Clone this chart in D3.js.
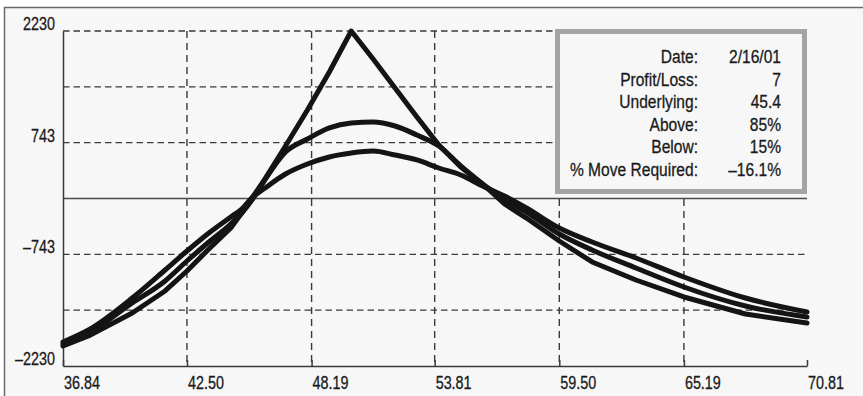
<!DOCTYPE html>
<html><head><meta charset="utf-8">
<script src="https://cdn.jsdelivr.net/npm/d3@7"></script>
<style>
html,body{margin:0;padding:0;background:#fff;}
svg{display:block;}
text{font-family:"Liberation Sans",Arial,sans-serif;fill:#1a1a1a;stroke:#1a1a1a;stroke-width:0.3px;}
</style></head><body>
<svg id="chart" width="863" height="396"></svg>
<script>
// ---- data ----
const prices = [36.84, 38, 40, 41.5, 42.5, 43.5, 44.5, 45, 45.5, 46, 47, 48, 49, 50, 51, 52, 53, 54, 55, 56, 57, 58, 59.5, 61, 63, 65.19, 68, 70.81];
const plNear = [-1964, -1831, -1524, -1231, -965, -672, -393, -193, 20, 233, 699, 1178, 1684, 2230, 1857, 1471, 1085, 712, 419, 193, -73, -260, -566, -845, -1085, -1311, -1538, -1658];
const plMid  = [-1937, -1791, -1391, -1098, -832, -579, -339, -193, -7, 220, 619, 792, 939, 1005, 1019, 965, 845, 699, 433, 193, -7, -180, -473, -686, -925, -1178, -1431, -1578];
const plFar  = [-1910, -1751, -1325, -952, -699, -459, -246, -140, 20, 126, 326, 459, 553, 606, 632, 579, 513, 406, 313, 166, 33, -126, -393, -579, -792, -1045, -1325, -1511];
const xTicks = [36.84, 42.50, 48.19, 53.81, 59.50, 65.19, 70.81];
const xTickLabels = ["36.84", "42.50", "48.19", "53.81", "59.50", "65.19", "70.81"];
const yTicks = [2230, 1486.67, 743.33, 0, -743.33, -1486.67, -2230];
const yTickLabels = ["2230", "", "743", "", "–743", "", "–2230"];
const infoLabels = ["Date:", "Profit/Loss:", "Underlying:", "Above:", "Below:", "% Move Required:"];
const infoValues = ["2/16/01", "7", "45.4", "85%", "15%", "–16.1%"];

// ---- layout ----
const svg = d3.select("#chart");
const L = 63, R = 807, T = 31, B = 366;
const NARROW = 0.82;
const x = d3.scaleLinear().domain([36.84, 70.81]).range([L, R]);
const y = d3.scaleLinear().domain([-2230, 2230]).range([B, T]);

// outer frame
svg.append("rect").attr("x", 4.5).attr("y", 7.5).attr("width", 900).attr("height", 500)
  .attr("fill", "#f7f7f7").attr("stroke", "#6a6a6a").attr("stroke-width", 1.5);

// grid
const g = svg.append("g");
yTicks.forEach(v => {
  if (v === 0 || v === -2230) return;
  g.append("line").attr("x1", L).attr("x2", R).attr("y1", y(v)).attr("y2", y(v))
    .attr("stroke", "#3a3a3a").attr("stroke-width", 1.4).attr("stroke-dasharray", "6.5,4");
});
xTicks.forEach(v => {
  if (v === 36.84 || v === 70.81) return;
  g.append("line").attr("x1", x(v)).attr("x2", x(v)).attr("y1", T).attr("y2", B)
    .attr("stroke", "#3a3a3a").attr("stroke-width", 1.4).attr("stroke-dasharray", "7,5");
});
g.append("line").attr("x1", L).attr("x2", R).attr("y1", y(0)).attr("y2", y(0))
  .attr("stroke", "#4a4a4a").attr("stroke-width", 1.5);

// axes
const xAxis = svg.append("g").attr("transform", `translate(0,${B})`)
  .call(d3.axisBottom(x).tickValues(xTicks).tickFormat((d, i) => xTickLabels[i]).tickSizeInner(-6).tickSizeOuter(0));
xAxis.select(".domain").attr("stroke", "#3a3a3a").attr("stroke-width", 1.5);
xAxis.selectAll(".tick line").attr("stroke", "#3a3a3a").attr("stroke-width", 1.5);
xAxis.selectAll(".tick text").attr("y", 23).attr("dy", 0).attr("x", 0.5 / NARROW)
  .attr("transform", `scale(${NARROW},1)`)
  .attr("text-anchor", "start").style("font-size", "17.5px").attr("fill", "#1a1a1a")
  .style("font-family", '"Liberation Sans",Arial,sans-serif');

const yAxis = svg.append("g").attr("transform", `translate(${L},0)`)
  .call(d3.axisLeft(y).tickValues(yTicks).tickFormat((d, i) => yTickLabels[i]).tickSize(0));
yAxis.select(".domain").attr("stroke", "#3a3a3a").attr("stroke-width", 1.5);
yAxis.selectAll(".tick text").attr("x", -8 / NARROW).attr("dy", 0).attr("y", -1.5)
  .attr("transform", `scale(${NARROW},1)`)
  .attr("text-anchor", "end").style("font-size", "17.5px").attr("fill", "#1a1a1a")
  .style("font-family", '"Liberation Sans",Arial,sans-serif');

// curves
const lineLin = d3.line().x((d, i) => x(prices[i])).y(d => y(d)).curve(d3.curveLinear);
const lineSm = d3.line().x((d, i) => x(prices[i])).y(d => y(d)).curve(d3.curveMonotoneX);
[[plFar, lineSm], [plMid, lineSm], [plNear, lineLin]].forEach(([arr, gen]) => {
  svg.append("path").attr("d", gen(arr)).attr("fill", "none")
    .attr("stroke", "#141414").attr("stroke-width", 5)
    .attr("stroke-linejoin", "round").attr("stroke-linecap", "round");
});

// info box
svg.append("rect").attr("x", 557.5).attr("y", 31.5).attr("width", 247).attr("height", 160)
  .attr("fill", "#f7f7f7").attr("stroke", "#a4a4a4").attr("stroke-width", 5);
const info = svg.append("g");
infoLabels.forEach((t, i) => {
  const yy = 63 + i * 22.6;
  info.append("g").attr("transform", `translate(698,${yy}) scale(${NARROW},1)`)
    .append("text").attr("text-anchor", "end").style("font-size", "19px").text(t);
  info.append("g").attr("transform", `translate(781,${yy}) scale(${NARROW},1)`)
    .append("text").attr("text-anchor", "end").style("font-size", "19px").text(infoValues[i]);
});
</script>
</body></html>
